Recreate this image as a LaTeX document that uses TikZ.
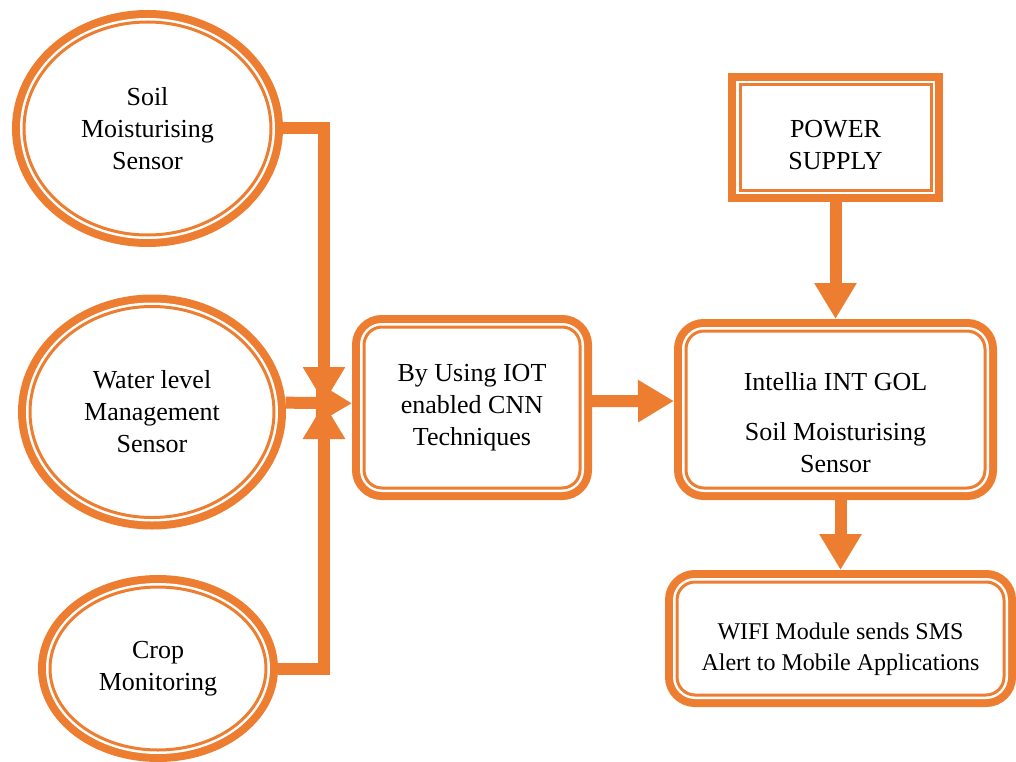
\documentclass[tikz,border=0pt]{standalone}
\usepackage{fontspec}
\setmainfont{Liberation Serif}
\usetikzlibrary{arrows.meta,shapes.geometric}
\definecolor{oc}{RGB}{237,125,49}
\begin{document}
\begin{tikzpicture}[x=1pt,y=-1pt,
  dbl/.style={fill=white, draw=oc, line width=3pt, outer sep=12pt, inner sep=0pt, align=center, text=black,
    preaction={draw=oc, line width=24pt},
    preaction={draw=white, line width=8pt}},
  ell/.style={dbl, ellipse},
  rbox/.style={dbl, rectangle, rounded corners=18pt},
  sbox/.style={dbl, rectangle},
  conn/.style={draw=oc, line width=12pt},
  arr/.style={conn, -{Triangle[length=36pt,width=40pt]}},
  txt/.style={font=\fontsize{26}{32}\selectfont}
]
\useasboundingbox (0,0) rectangle (1016,762);

\node[ell, txt, minimum width=247pt, minimum height=213pt] (e1) at (147.5,128.5) {Soil\\Moisturising\\Sensor};
\node[ell, txt, minimum width=244pt, minimum height=211pt] (e2) at (152,412) {Water level\\Management\\Sensor};
\node[ell, txt, minimum width=216pt, minimum height=163pt] (e3) at (158,668.5) {Crop\\Monitoring};
\node[rbox, txt, minimum width=216pt, minimum height=161pt] (cnn) at (472,407.5) {By Using IOT\\enabled CNN\\Techniques};
\node[rbox, txt, minimum width=299pt, minimum height=157pt] (int) at (835.5,409.5) {\rule{0pt}{44pt}Intellia INT GOL\\[18pt]Soil Moisturising\\Sensor};
\node[sbox, txt, minimum width=191pt, minimum height=105pt] (ps) at (835.5,137.5) {\rule{0pt}{32pt}POWER\\SUPPLY};
\node[rbox, font=\fontsize{24}{31}\selectfont, minimum width=327pt, minimum height=113pt] (wifi) at (840.5,638.5) {\rule{0pt}{38pt}WIFI Module sends SMS\\Alert to Mobile Applications};

\coordinate (j) at (324,403);
\draw[arr] (e1.east) -| (j);
\draw[arr] (e3.east) -| (j);
\draw[arr] (e2.4) -- (cnn.178);
\draw[arr] (cnn.3) -- (int.177);
\draw[arr] (ps.south) -- (int.north);
\draw[arr] (int.south -| wifi.north) -- (wifi.north);
\end{tikzpicture}
\end{document}
